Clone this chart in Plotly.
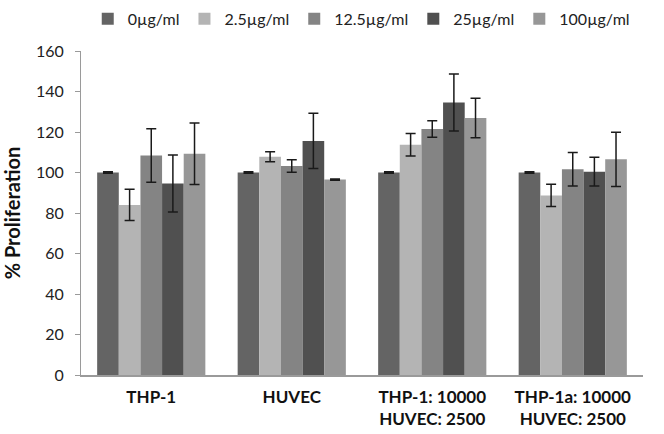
import plotly.graph_objects as go

categories = ["THP-1", "HUVEC", "THP-1: 10000<br>HUVEC: 2500", "THP-1a: 10000<br>HUVEC: 2500"]
series_names = ["0µg/ml", "2.5µg/ml", "12.5µg/ml", "25µg/ml", "100µg/ml"]
values = [
    [100, 100, 100, 100],
    [84, 107.8, 113.7, 88.7],
    [108.4, 103.2, 121.5, 101.6],
    [94.6, 115.6, 134.6, 100.4],
    [109.3, 96.5, 126.9, 106.5],
]
errors = [
    [0.4, 0.4, 0.4, 0.4],
    [7.7, 2.5, 5.5, 5.5],
    [13.2, 3.1, 4.1, 8.3],
    [14.1, 13.6, 14.1, 7.1],
    [15.2, 0.3, 9.8, 13.4],
]
colors = ["#646464", "#b4b4b4", "#848484", "#505050", "#979797"]

fig = go.Figure()
for name, v, e, c in zip(series_names, values, errors, colors):
    fig.add_trace(go.Bar(
        x=categories, y=v, name=name, marker=dict(color=c, line=dict(width=0)),
        error_y=dict(type="data", array=e, visible=True, color="#1a1a1a", thickness=1.5, width=5),
    ))

fig.update_layout(
    width=664, height=434,
    barmode="group", bargap=0.23, bargroupgap=0,
    paper_bgcolor="white", plot_bgcolor="white",
    margin=dict(l=81, r=21, t=51, b=59, autoexpand=False),
    font=dict(family="Lato, Open Sans, sans-serif", color="#222222"),
    legend=dict(orientation="h", x=0.012, xanchor="left", y=1.152, yanchor="top",
                font=dict(size=16, color="#222222"),
                itemwidth=30, traceorder="normal"),
    showlegend=True,
)
fig.update_yaxes(range=[0, 160], dtick=20, showgrid=False, showline=True, linecolor="#9a9a9a",
                 linewidth=1, ticks="outside", ticklen=5, tickcolor="#9a9a9a",
                 ticklabelstandoff=8, automargin=False,
                 tickfont=dict(size=16, color="#222222"),
                 title=dict(text="<b>% Proliferation</b>", font=dict(size=20, color="#111111"), standoff=12))
fig.update_xaxes(showgrid=False, showline=True, linecolor="#9a9a9a", linewidth=1.5,
                 ticks="", automargin=False, ticklabelstandoff=6,
                 tickfont=dict(size=17, color="#111111", weight="bold"))

fig.write_html("out.html", config={"displayModeBar": False},
               post_script="document.body.style.margin='0';")
